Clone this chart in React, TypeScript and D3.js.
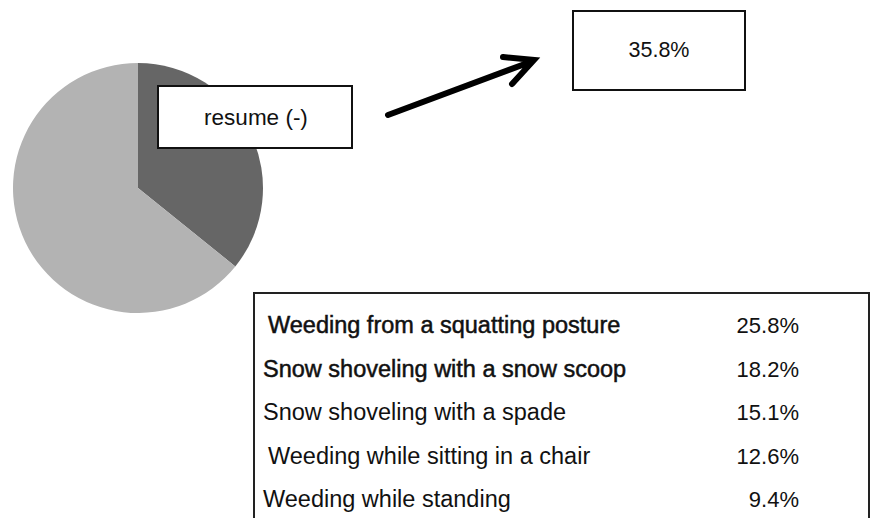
import React, { useEffect, useRef } from 'react';
import * as d3 from 'd3';

const sliceNames = ['resume (-)', 'other'];
const sliceValues = [35.8, 64.2];
const sliceColors = ['#666666', '#b3b3b3'];

const rowLabels = [
  'Weeding from a squatting posture',
  'Snow shoveling with a snow scoop',
  'Snow shoveling with a spade',
  'Weeding while sitting in a chair',
  'Weeding while standing'
];
const rowValues = [25.8, 18.2, 15.1, 12.6, 9.4];
const rowIndent = [268, 263, 263, 268, 263];

const W = 872;
const H = 518;

export default function App() {
  const svgRef = useRef<SVGSVGElement>(null);

  useEffect(() => {
    if (!svgRef.current) return;
    const svg = d3.select(svgRef.current);
    svg.selectAll('*').remove();

    const font = 'Liberation Sans, Arial, sans-serif';

    // pie
    const cx = 138;
    const cy = 188;
    const r = 125;
    const pie = d3.pie<number>().sort(null).value(d => d);
    const arc = d3.arc<d3.PieArcDatum<number>>().innerRadius(0).outerRadius(r);

    svg.append('g')
      .attr('transform', `translate(${cx},${cy})`)
      .selectAll('path')
      .data(pie(sliceValues))
      .join('path')
      .attr('d', arc)
      .attr('fill', (_, i) => sliceColors[i]);

    // callout box on the slice
    svg.append('rect')
      .attr('x', 158).attr('y', 86)
      .attr('width', 194).attr('height', 62)
      .attr('fill', '#fff')
      .attr('stroke', '#111')
      .attr('stroke-width', 2);

    svg.append('text')
      .attr('x', 256).attr('y', 125)
      .attr('text-anchor', 'middle')
      .attr('font-family', font)
      .attr('font-size', 22.5)
      .attr('fill', '#111')
      .text(sliceNames[0]);

    // arrow
    svg.append('path')
      .attr('d', 'M388,115 L533,61 M503,57 L534,60 L512,84')
      .attr('fill', 'none')
      .attr('stroke', '#000')
      .attr('stroke-width', 6)
      .attr('stroke-linecap', 'round')
      .attr('stroke-linejoin', 'miter');

    // value box
    svg.append('rect')
      .attr('x', 573).attr('y', 11)
      .attr('width', 172).attr('height', 79)
      .attr('fill', '#fff')
      .attr('stroke', '#111')
      .attr('stroke-width', 2);

    svg.append('text')
      .attr('x', 659).attr('y', 57)
      .attr('text-anchor', 'middle')
      .attr('font-family', font)
      .attr('font-size', 21.5)
      .attr('fill', '#111')
      .text(`${sliceValues[0].toFixed(1)}%`);

    // table
    svg.append('rect')
      .attr('x', 254).attr('y', 293)
      .attr('width', 615).attr('height', 260)
      .attr('fill', '#fff')
      .attr('stroke', '#222')
      .attr('stroke-width', 2);

    const y = d3.scalePoint<string>()
      .domain(rowLabels)
      .range([333, 507]);

    const rows = svg.append('g')
      .selectAll('g')
      .data(rowLabels)
      .join('g');

    rows.append('text')
      .attr('x', (_, i) => rowIndent[i])
      .attr('y', d => y(d) as number)
      .attr('font-family', font)
      .attr('font-size', 23.5)
      .attr('fill', '#111')
      .attr('stroke', (_, i) => (i < 2 ? '#111' : 'none'))
      .attr('stroke-width', 0.5)
      .text(d => d);

    rows.append('text')
      .attr('x', 799)
      .attr('y', d => y(d) as number)
      .attr('text-anchor', 'end')
      .attr('font-family', font)
      .attr('font-size', 22)
      .attr('fill', '#111')
      .text((_, i) => `${rowValues[i].toFixed(1)}%`);
  }, []);

  return (
    <svg
      ref={svgRef}
      width={W}
      height={H}
      style={{ position: 'absolute', left: 0, top: 0, background: '#fff' }}
    />
  );
}
